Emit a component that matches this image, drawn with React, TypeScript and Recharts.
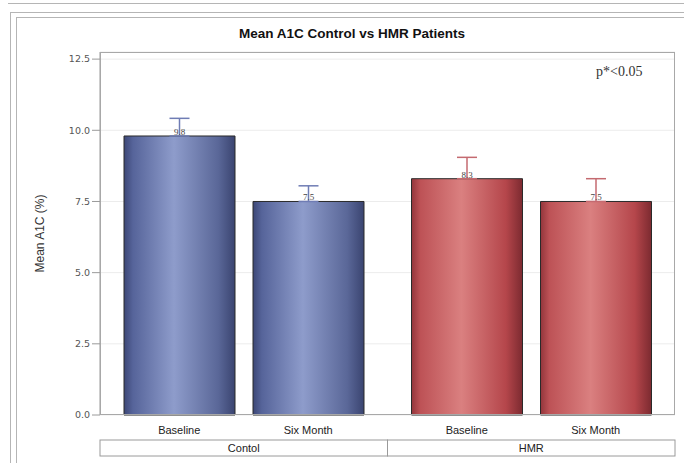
import { Bar, BarChart, CartesianGrid, Cell, ErrorBar, LabelList, XAxis, YAxis } from "recharts";

const GROUPS = ["Contol", "HMR"];
const PERIODS = ["Baseline", "Six Month"];
const BASELINE = [9.8, 8.3];
const SIX_MONTH = [7.5, 7.5];
const BASELINE_ERR = [0.62, 0.75];
const SIX_MONTH_ERR = [0.55, 0.8];
const Y_TICKS = [0, 2.5, 5, 7.5, 10, 12.5];

const data = GROUPS.map((g, i) => ({
  group: g,
  baseline: BASELINE[i],
  sixMonth: SIX_MONTH[i],
  // asymmetric: only the upper whisker shows above the bar
  ctlBaseErr: i === 0 ? [0, BASELINE_ERR[i]] : null,
  hmrBaseErr: i === 1 ? [0, BASELINE_ERR[i]] : null,
  ctlSixErr: i === 0 ? [0, SIX_MONTH_ERR[i]] : null,
  hmrSixErr: i === 1 ? [0, SIX_MONTH_ERR[i]] : null,
}));

const FILLS = ["url(#blueBar)", "url(#redBar)"];
const BLUE_ERR = "#6f7cb4";
const RED_ERR = "#c46a70";

const BAR = 111;
const GAP = 18;
const BAND = 287.5;

function GroupTick({ x, y, payload }: any) {
  const half = (BAR + GAP) / 2;
  return (
    <g fontFamily="'Liberation Sans', Arial, sans-serif" fontSize={11} fill="#222">
      <text x={x - half} y={y + 11} textAnchor="middle">{PERIODS[0]}</text>
      <text x={x + half} y={y + 11} textAnchor="middle">{PERIODS[1]}</text>
      <rect x={x - BAND / 2} y={y + 17} width={BAND} height={16} fill="#fff" stroke="#9a9a9a" />
      <text x={x} y={y + 29} textAnchor="middle">{payload.value}</text>
    </g>
  );
}

function Bars() {
  return (
    <BarChart
      width={684}
      height={463}
      data={data}
      margin={{ top: 52, right: 9, left: 0, bottom: 0 }}
      barSize={BAR}
      barGap={GAP}
    >
      <defs>
        <linearGradient id="blueBar" x1="0" y1="0" x2="1" y2="0">
          <stop offset="0%" stopColor="#3c4776" />
          <stop offset="8%" stopColor="#56649a" />
          <stop offset="45%" stopColor="#8e9ccb" />
          <stop offset="85%" stopColor="#5a6798" />
          <stop offset="100%" stopColor="#3a4470" />
        </linearGradient>
        <linearGradient id="redBar" x1="0" y1="0" x2="1" y2="0">
          <stop offset="0%" stopColor="#93353b" />
          <stop offset="8%" stopColor="#bd5256" />
          <stop offset="45%" stopColor="#da8080" />
          <stop offset="85%" stopColor="#b5464b" />
          <stop offset="100%" stopColor="#7c2a30" />
        </linearGradient>
      </defs>
      <CartesianGrid stroke="#ececec" vertical={false} />
      <XAxis dataKey="group" height={48} axisLine={false} tickLine={false} tick={<GroupTick />} interval={0} />
      <YAxis
        width={100}
        domain={[0, 12.75]}
        ticks={Y_TICKS}
        tickFormatter={(v) => v.toFixed(1)}
        tick={{ fontSize: 9.5, fill: "#555", fontFamily: "'DejaVu Sans', sans-serif" }}
        tickSize={8}
        tickMargin={2}
        stroke="#9a9a9a"
        label={{
          value: "Mean A1C (%)",
          angle: -90,
          position: "insideLeft",
          offset: 40,
          style: { textAnchor: "middle", fontSize: 12, fill: "#333", fontFamily: "'Liberation Sans', Arial, sans-serif" },
        }}
      />
      <Bar dataKey="baseline" stroke="#2a2a2a" strokeWidth={1} isAnimationActive={false}>
        {data.map((d, i) => <Cell key={d.group} fill={FILLS[i]} />)}
        <ErrorBar dataKey="ctlBaseErr" width={10} stroke={BLUE_ERR} strokeWidth={1.5} />
        <ErrorBar dataKey="hmrBaseErr" width={10} stroke={RED_ERR} strokeWidth={1.5} />
        <LabelList dataKey="baseline" position="top" offset={1} fontSize={9} fill="#444" />
      </Bar>
      <Bar dataKey="sixMonth" stroke="#2a2a2a" strokeWidth={1} isAnimationActive={false}>
        {data.map((d, i) => <Cell key={d.group} fill={FILLS[i]} />)}
        <ErrorBar dataKey="ctlSixErr" width={10} stroke={BLUE_ERR} strokeWidth={1.5} />
        <ErrorBar dataKey="hmrSixErr" width={10} stroke={RED_ERR} strokeWidth={1.5} />
        <LabelList dataKey="sixMonth" position="top" offset={1} fontSize={9} fill="#444" />
      </Bar>
    </BarChart>
  );
}

export default function App() {
  return (
    <div style={{ position: "absolute", left: 0, top: 0, width: 684, height: 463, background: "#fff", overflow: "hidden" }}>
      <div style={{ position: "absolute", left: 8, top: 3, right: 0, borderTop: "1px solid #b5b5b5" }} />
      <div style={{ position: "absolute", left: 10, top: 12, width: 700, height: 480, border: "1px solid #b5b5b5" }} />
      <div style={{ position: "absolute", left: 16, top: 17, width: 700, height: 480, border: "1px solid #b5b5b5" }} />
      <div
        style={{
          position: "absolute",
          top: 26,
          left: 0,
          width: 704,
          textAlign: "center",
          fontFamily: "'Liberation Sans', Arial, sans-serif",
          fontWeight: "bold",
          fontSize: 13.5,
          color: "#111",
        }}
      >
        Mean A1C Control vs HMR Patients
      </div>
      <div style={{ position: "absolute", left: 0, top: 0 }}>
        <Bars />
      </div>
      <div style={{ position: "absolute", left: 100, top: 52, width: 575, height: 363, border: "1px solid #a8a8a8", boxSizing: "border-box", pointerEvents: "none" }} />
      <div
        style={{
          position: "absolute",
          left: 596,
          top: 64,
          fontFamily: "'Liberation Serif', 'Times New Roman', serif",
          fontSize: 14,
          color: "#333",
        }}
      >
        p*&lt;0.05
      </div>
    </div>
  );
}
